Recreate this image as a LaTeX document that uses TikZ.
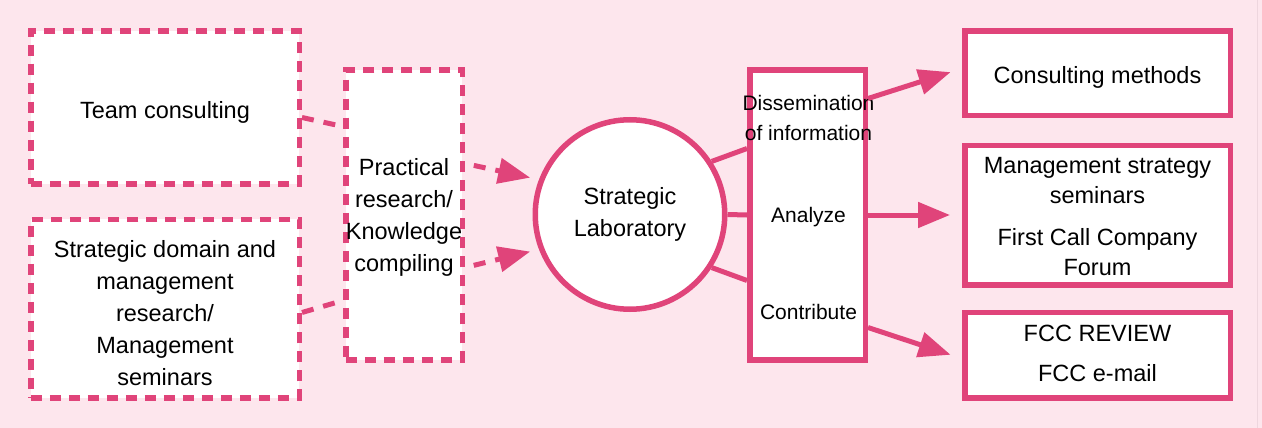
\documentclass[tikz,border=0pt]{standalone}
\usepackage{fontspec}
\setmainfont{Liberation Sans}
\usetikzlibrary{arrows.meta,calc}
\definecolor{bgpink}{RGB}{253,230,237}
\definecolor{edgepink}{RGB}{238,214,222}
\definecolor{rose}{RGB}{224,68,122}

\begin{document}
\begin{tikzpicture}[x=1pt,y=-1pt,
  every node/.style={font=\fontsize{23.5}{32}\selectfont, text=black, align=center, inner sep=0pt},
  dashbox/.style={rectangle, draw=rose, line width=5.5pt, dash pattern=on 11pt off 8pt, fill=white},
  solidbox/.style={rectangle, draw=rose, line width=5.5pt, fill=white},
  link/.style={draw=rose, line width=5pt},
  dlink/.style={draw=rose, line width=5pt, dash pattern=on 12pt off 10pt},
  tip/.style={-{Triangle[length=32pt,width=25pt]}},
  small/.style={font=\fontsize{21}{30}\selectfont}
]
% background
\fill[bgpink] (0,0) rectangle (1262,427);
\draw[edgepink, line width=1pt] (1257.5,0) -- (1257.5,427);

% sources (dashed)
\node[dashbox, minimum width=268.5pt, minimum height=152.5pt] (team) at (165,107) {};
\node (teamtxt) at (165,112) {Team consulting};
\node[dashbox, minimum width=268.5pt, minimum height=178.5pt] (sdm) at (165,308) {};
\node (sdmtxt) at (165,313)
  {Strategic domain and\\management\\research/\\Management\\seminars};
\node[dashbox, minimum width=116.5pt, minimum height=289.5pt] (prac) at (404,214.5) {};
\node (practxt) at (404,217)
  {Practical\\research/\\Knowledge\\compiling};

% hub
\node[circle, draw=rose, line width=5.5pt, fill=white, minimum size=189.5pt] (circ) at (630,214)
  {Strategic\\Laboratory};

% activities column
\node[solidbox, minimum width=115.5pt, minimum height=289.5pt] (mid) at (807.5,214.5) {};
\node[small] (diss) at (808.5,117.5) {Dissemination\\of information};
\node[small] (ana) at (808.5,217) {Analyze};
\node[small] (contr) at (808.5,311) {Contribute};

% outputs
\node[solidbox, minimum width=265.5pt, minimum height=84.5pt] (cons) at (1097.5,73) {};
\node (constxt) at (1097.5,77) {Consulting methods};
\node[solidbox, minimum width=265.5pt, minimum height=139.5pt] (mgmt) at (1097.5,214.5) {};
\node[font=\fontsize{23.5}{30}\selectfont] (mgmttxt) at (1097.5,216.5)
  {Management strategy\\seminars\\[12pt]First Call Company\\Forum};
\node[solidbox, minimum width=265.5pt, minimum height=85.5pt] (fcc) at (1097.5,354.5) {};
\node (fcctxt) at (1097.5,352.5) {FCC REVIEW\\[8pt]FCC e-mail};

% dashed links into the practical research box
\draw[dlink] ([yshift=-10pt]team.east) -- ([yshift=88.5pt]prac.west);
\draw[dlink] ([yshift=-4pt]sdm.east) -- ([yshift=-85.5pt]prac.west);

% dashed arrows into the hub
\draw[dlink, tip, shorten <=9pt, shorten >=9pt] ([yshift=51.5pt]prac.east) -- (circ.159);
\draw[dlink, tip, shorten <=9pt, shorten >=9pt] ([yshift=-52.5pt]prac.east) -- (circ.201);

% hub to activities
\draw[link] (circ.33) -- ([yshift=66.5pt]mid.west);
\draw[link] (circ.east) -- (mid.west);
\draw[link] (circ.-33) -- ([yshift=-65.5pt]mid.west);

% activities to outputs
\draw[link, tip, shorten >=12pt] ([yshift=116.5pt]mid.east) -- ([yshift=5pt]cons.west);
\draw[link, tip, shorten >=12pt] (mid.east) -- (mgmt.west);
\draw[link, tip, shorten >=12pt] ([yshift=-112.5pt]mid.east) -- ([yshift=-3.5pt]fcc.west);
\end{tikzpicture}
\end{document}
